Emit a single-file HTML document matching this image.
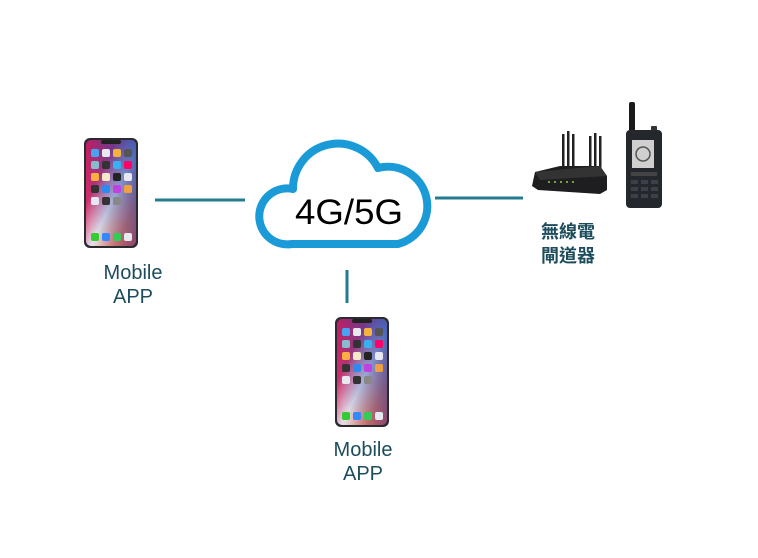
<!DOCTYPE html>
<html><head><meta charset="utf-8"><style>
html,body{margin:0;padding:0;background:#fff;}
body{width:758px;height:558px;position:relative;overflow:hidden;font-family:"Liberation Sans","Noto Sans CJK TC",sans-serif;}
.t{position:absolute;color:#1d4d5c;font-size:20px;text-align:center;line-height:24px;}
</style></head><body>
<svg width="758" height="558" style="position:absolute;left:0;top:0">
<defs>
<linearGradient id="scr" x1="0" y1="0" x2="1" y2="1">
<stop offset="0" stop-color="#e8154f"/><stop offset="0.3" stop-color="#d0306a"/><stop offset="0.55" stop-color="#e4e2ea"/><stop offset="0.8" stop-color="#f07a5a"/><stop offset="1" stop-color="#e94b3c"/>
</linearGradient>
<linearGradient id="scr2" x1="1" y1="0" x2="0" y2="0.6">
<stop offset="0" stop-color="#1a3ea8" stop-opacity="0.8"/><stop offset="1" stop-color="#1a3ea8" stop-opacity="0"/>
</linearGradient>
<g id="ph">
<rect x="0" y="0" width="54" height="110" rx="6" fill="#2a2a30"/>
<rect x="2" y="2" width="50" height="106" rx="5" fill="url(#scr)"/>
<rect x="2" y="2" width="50" height="106" rx="5" fill="url(#scr2)"/>
<rect x="17" y="2" width="20" height="4" rx="2" fill="#222"/>
<g fill="#e8e8f0">
<rect x="7" y="11" width="8" height="8" rx="2" fill="#4aa3f0"/><rect x="18" y="11" width="8" height="8" rx="2"/><rect x="29" y="11" width="8" height="8" rx="2" fill="#f4b33c"/><rect x="40" y="11" width="8" height="8" rx="2" fill="#555"/>
<rect x="7" y="23" width="8" height="8" rx="2" fill="#8bc"/><rect x="18" y="23" width="8" height="8" rx="2" fill="#333"/><rect x="29" y="23" width="8" height="8" rx="2" fill="#3ab0f0"/><rect x="40" y="23" width="8" height="8" rx="2" fill="#f06"/>
<rect x="7" y="35" width="8" height="8" rx="2" fill="#f8b040"/><rect x="18" y="35" width="8" height="8" rx="2" fill="#f5e9c8"/><rect x="29" y="35" width="8" height="8" rx="2" fill="#222"/><rect x="40" y="35" width="8" height="8" rx="2"/>
<rect x="7" y="47" width="8" height="8" rx="2" fill="#333"/><rect x="18" y="47" width="8" height="8" rx="2" fill="#2a8cf0"/><rect x="29" y="47" width="8" height="8" rx="2" fill="#c040e0"/><rect x="40" y="47" width="8" height="8" rx="2" fill="#f0a040"/>
<rect x="7" y="59" width="8" height="8" rx="2"/><rect x="18" y="59" width="8" height="8" rx="2" fill="#333"/><rect x="29" y="59" width="8" height="8" rx="2" fill="#888"/>
<rect x="7" y="95" width="8" height="8" rx="2" fill="#3c3"/><rect x="18" y="95" width="8" height="8" rx="2" fill="#38f"/><rect x="29" y="95" width="8" height="8" rx="2" fill="#3c5"/><rect x="40" y="95" width="8" height="8" rx="2"/>
</g>
</g>
</defs>
<use href="#ph" x="84" y="138"/>
<use href="#ph" x="335" y="317"/>
<g stroke="#227b8e" stroke-width="3">
<line x1="155" y1="200" x2="245" y2="200"/>
<line x1="435" y1="198" x2="523" y2="198"/>
<line x1="347" y1="270" x2="347" y2="303"/>
</g>
<path d="M292 244 A28 28 0 1 1 293 189 A45 45 0 0 1 378 168 A39 39 0 1 1 398 244 Z" fill="#fff" stroke="#1a9ad6" stroke-width="8" stroke-linejoin="round"/>
<text x="349" y="224" font-size="35" text-anchor="middle" font-family="Liberation Sans, sans-serif" fill="#000" textLength="108" lengthAdjust="spacingAndGlyphs">4G/5G</text>
<!-- router -->
<g fill="#222">
<rect x="562" y="134" width="2.5" height="36"/><rect x="567" y="131" width="2.5" height="38"/><rect x="572" y="134" width="2.5" height="35"/>
<rect x="589" y="136" width="2.5" height="34"/><rect x="594" y="133" width="2.5" height="37"/><rect x="599" y="136" width="2.5" height="34"/>
<path d="M535 172 L560 166 L600 166 L607 176 L607 190 L600 194 L538 190 L532 186 Z" fill="#1e1e20"/>
<path d="M535 172 L600 166 L607 176 L540 180 Z" fill="#333"/>
</g>
<g fill="#9c4"><circle cx="549" cy="182" r="1"/><circle cx="555" cy="182" r="1"/><circle cx="561" cy="182" r="1"/><circle cx="567" cy="182" r="1"/><circle cx="573" cy="182" r="1"/></g>
<!-- radio -->
<rect x="629" y="102" width="6" height="30" rx="2" fill="#1a1a1a"/>
<rect x="651" y="126" width="6" height="8" rx="1" fill="#333"/>
<rect x="626" y="130" width="36" height="78" rx="4" fill="#24272c"/>
<rect x="632" y="140" width="22" height="28" fill="#cfcfcf"/>
<circle cx="643" cy="154" r="7" fill="none" stroke="#555" stroke-width="1.5"/>
<rect x="631" y="172" width="26" height="4" fill="#444"/>
<g fill="#3d4048">
<rect x="631" y="180" width="7" height="4"/><rect x="641" y="180" width="7" height="4"/><rect x="651" y="180" width="7" height="4"/>
<rect x="631" y="187" width="7" height="4"/><rect x="641" y="187" width="7" height="4"/><rect x="651" y="187" width="7" height="4"/>
<rect x="631" y="194" width="7" height="4"/><rect x="641" y="194" width="7" height="4"/><rect x="651" y="194" width="7" height="4"/>
</g>
</svg>
<div class="t" style="left:80px;top:261px;width:106px;">Mobile<br>APP</div>
<div class="t" style="left:310px;top:438px;width:106px;">Mobile<br>APP</div>
<div class="t" style="left:528px;top:220px;width:80px;font-size:18px;font-weight:bold;">無線電<br>閘道器</div>
</body></html>
